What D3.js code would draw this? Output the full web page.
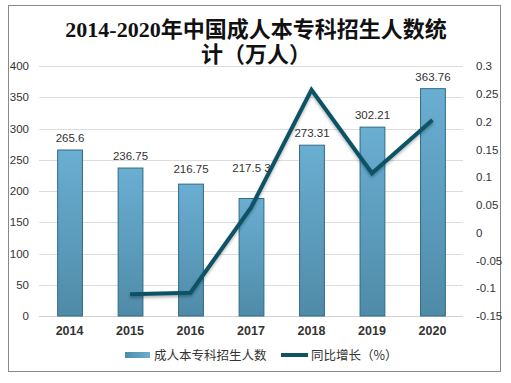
<!DOCTYPE html>
<html><head><meta charset="utf-8">
<script src="https://cdn.jsdelivr.net/npm/d3@7"></script>
<style>
body{margin:0;background:#fff;}
svg{display:block;}
</style></head>
<body>
<svg id="c" width="511" height="383"></svg>
<script>
const years = ["2014","2015","2016","2017","2018","2019","2020"];
const barValues = [265.6, 236.75, 211, 188, 273.31, 302.21, 363.76];
const labelValues = [265.6, 236.75, 216.75, 217.53, 273.31, 302.21, 363.76];
const labelTexts = ["265.6","236.75","216.75","217.5 3","273.31","302.21","363.76"];
const growthYears = ["2015","2016","2017","2018","2019","2020"];
const growthValues = [-0.111, -0.108, 0.045, 0.257, 0.107, 0.203];
const leftTicks = [0,50,100,150,200,250,300,350,400];
const rightTicks = [-0.15,-0.1,-0.05,0,0.05,0.1,0.15,0.2,0.25,0.3];
const titleLines = ["2014-2020年中国成人本专科招生人数统","计（万人）"];
const legendNames = ["成人本专科招生人数","同比增长（%）"];

const svg = d3.select("#c");
const W = 511, H = 383;
const plot = {left:39, right:463, top:66, bottom:316};

// frame
svg.append("rect").attr("x",8.5).attr("y",5.5).attr("width",492).attr("height",366)
  .attr("fill","#fff").attr("stroke","#8a8a8a").attr("stroke-width",1);

const defs = svg.append("defs");
const grad = defs.append("linearGradient").attr("id","bg").attr("x1",0).attr("y1",0).attr("x2",0).attr("y2",1);
grad.append("stop").attr("offset","0%").attr("stop-color","#6aaed2");
grad.append("stop").attr("offset","100%").attr("stop-color","#4f8ba8");
const lg = defs.append("linearGradient").attr("id","lgb").attr("x1",0).attr("y1",0).attr("x2",1).attr("y2",0);
lg.append("stop").attr("offset","0%").attr("stop-color","#4f8ba8");
lg.append("stop").attr("offset","100%").attr("stop-color","#6aaed2");
const sh = defs.append("filter").attr("id","sh").attr("x","-10%").attr("y","-10%").attr("width","120%").attr("height","130%");
sh.append("feDropShadow").attr("dx",0).attr("dy",2).attr("stdDeviation",1.5).attr("flood-color","#000").attr("flood-opacity",0.3);

const x = d3.scaleBand().domain(years).range([plot.left, plot.right]).paddingInner(0.59).paddingOuter(0.3);
const y = d3.scaleLinear().domain([0,400]).range([plot.bottom, plot.top]);
const y2 = d3.scaleLinear().domain([-0.15,0.3]).range([plot.bottom, plot.top]);

// grid
svg.append("g").selectAll("line").data(leftTicks).join("line")
  .attr("x1",plot.left).attr("x2",plot.right)
  .attr("y1",d=>Math.round(y(d))+0.5).attr("y2",d=>Math.round(y(d))+0.5)
  .attr("stroke",d=>d===0?"#d0d0d0":"#dcdcdc").attr("stroke-width",1);

// left axis
const la = svg.append("g").attr("transform",`translate(${plot.left},0)`)
  .call(d3.axisLeft(y).tickValues(leftTicks).tickSize(0).tickPadding(10).tickFormat(d3.format("d")));
la.select(".domain").remove();
la.selectAll("text").attr("font-family","Liberation Sans, Arial, sans-serif").attr("font-size",11.5).attr("fill","#333");

// right axis
const ra = svg.append("g").attr("transform",`translate(${plot.right},0)`)
  .call(d3.axisRight(y2).tickValues(rightTicks).tickSize(0).tickPadding(13).tickFormat(d=>d===0?"0":String(+d.toFixed(2))));
ra.select(".domain").remove();
ra.selectAll("text").attr("font-family","Liberation Sans, Arial, sans-serif").attr("font-size",11.5).attr("fill","#333");

// bars
svg.append("g").selectAll("rect").data(years).join("rect")
  .attr("x",d=>x(d)+0.5).attr("width",x.bandwidth())
  .attr("y",(d,i)=>y(barValues[i])).attr("height",(d,i)=>y(0)-y(barValues[i]))
  .attr("fill","url(#bg)").attr("stroke","#2f6a84").attr("stroke-width",1);

// x axis labels
const xa = svg.append("g").attr("transform",`translate(0,${plot.bottom})`)
  .call(d3.axisBottom(x).tickSize(0).tickPadding(10));
xa.select(".domain").remove();
xa.selectAll("text").attr("font-family","Liberation Sans, Arial, sans-serif").attr("font-size",12.5).attr("font-weight","bold").attr("fill","#333");

// line
const line = d3.line().x((d,i)=>x(growthYears[i])+x.bandwidth()/2).y(d=>y2(d));
svg.append("path").datum(growthValues).attr("d",line)
  .attr("fill","none").attr("stroke","#0f5266").attr("stroke-width",4)
  .attr("stroke-linejoin","miter").attr("stroke-linecap","butt").attr("filter","url(#sh)");

// value labels
svg.append("g").selectAll("text").data(years).join("text")
  .attr("x",d=>x(d)+x.bandwidth()/2+0.5)
  .attr("y",(d,i)=>y(labelValues[i])-8)
  .attr("text-anchor","middle")
  .attr("font-family","Liberation Sans, Arial, sans-serif").attr("font-size",11.5).attr("fill","#333")
  .text((d,i)=>labelTexts[i]);

// title
svg.append("g").selectAll("text").data(titleLines).join("text")
  .attr("x",256).attr("y",(d,i)=>37+i*25).attr("text-anchor","middle")
  .attr("font-family","Liberation Serif, 'Noto Sans CJK SC', serif").attr("font-size",22).attr("font-weight","bold")
  .attr("fill","#111").text(d=>d);

// legend
const leg = svg.append("g");
leg.append("rect").attr("x",125).attr("y",352).attr("width",25).attr("height",6).attr("fill","url(#lgb)");
leg.append("text").attr("x",154).attr("y",359.5).attr("font-family","'Noto Sans CJK SC', sans-serif").attr("font-size",12.5).attr("fill","#333").text(legendNames[0]);
leg.append("line").attr("x1",281).attr("x2",308).attr("y1",355).attr("y2",355).attr("stroke","#0f5266").attr("stroke-width",4);
leg.append("text").attr("x",311).attr("y",359.5).attr("font-family","'Noto Sans CJK SC', sans-serif").attr("font-size",12.5).attr("fill","#333").text(legendNames[1]);
</script>
</body></html>
